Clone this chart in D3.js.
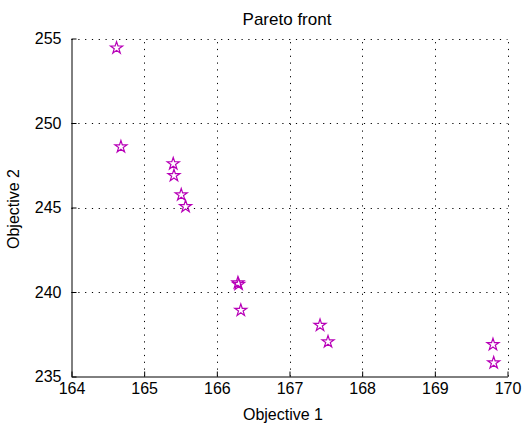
<!DOCTYPE html>
<html><head><meta charset="utf-8">
<script src="https://cdn.jsdelivr.net/npm/d3@7"></script>
<style>body{margin:0;background:#fff}svg{display:block}text{font-family:"Liberation Sans",Arial,sans-serif;fill:#000}</style>
</head><body><svg id="c" width="523" height="426"></svg>
<script>
const obj1 = [164.62,164.68,165.40,165.41,165.51,165.57,166.29,166.30,166.33,167.42,167.53,169.80,169.81];
const obj2 = [254.44,248.59,247.59,246.89,245.75,245.06,240.54,240.45,238.92,238.03,237.05,236.89,235.81];
const xTicks = [164,165,166,167,168,169,170];
const yTicks = [235,240,245,250,255];
const title = "Pareto front", xLabel = "Objective 1", yLabel = "Objective 2";

const svg = d3.select("#c");
const L=71.5, R=507.5, T=38.5, B=376.5;
const x = d3.scaleLinear().domain([164,170]).range([L,R]);
const y = d3.scaleLinear().domain([235,255]).range([B,T]);

// grid
const g = svg.append("g");
g.selectAll("line.gx").data(xTicks.filter(d=>d>164)).join("line")
 .attr("x1",d=>Math.round(x(d))+0.5).attr("x2",d=>Math.round(x(d))+0.5).attr("y1",B).attr("y2",T)
 .attr("stroke","#000").attr("stroke-width",1).attr("stroke-dasharray","1.2,5.6");
g.selectAll("line.gy").data(yTicks.filter(d=>d>235)).join("line")
 .attr("y1",d=>Math.round(y(d))+0.5).attr("y2",d=>Math.round(y(d))+0.5).attr("x1",L).attr("x2",R)
 .attr("stroke","#000").attr("stroke-width",1).attr("stroke-dasharray","1.2,5.6");

// axes
const xa = svg.append("g").attr("transform",`translate(0,${B})`)
 .call(d3.axisBottom(x).tickValues(xTicks).tickSizeInner(-5).tickSizeOuter(0).tickPadding(6).tickFormat(d3.format("d")));
const ya = svg.append("g").attr("transform",`translate(${L},0)`)
 .call(d3.axisLeft(y).tickValues(yTicks).tickSizeInner(-5).tickSizeOuter(0).tickPadding(10).tickFormat(d3.format("d")));
[xa,ya].forEach(a=>{a.selectAll("text").attr("font-size",16).attr("font-family","Liberation Sans, Arial, sans-serif");
 a.select(".domain").attr("stroke","#000"); a.selectAll(".tick line").attr("stroke","#000");});

// markers
const star = d3.symbol().type(d3.symbolStar).size(45);
svg.append("g").selectAll("path").data(obj1.map((v,i)=>[v,obj2[i]])).join("path")
 .attr("d",star).attr("transform",d=>`translate(${x(d[0])},${y(d[1])})`)
 .attr("fill","none").attr("stroke","#b800b8").attr("stroke-width",1.2);

// labels
svg.append("text").attr("x",287).attr("y",25).attr("text-anchor","middle").attr("font-size",17).text(title);
svg.append("text").attr("x",283).attr("y",420).attr("text-anchor","middle").attr("font-size",16).text(xLabel);
svg.append("text").attr("transform","translate(19,209) rotate(-90)").attr("text-anchor","middle").attr("font-size",16).text(yLabel);
</script></body></html>
